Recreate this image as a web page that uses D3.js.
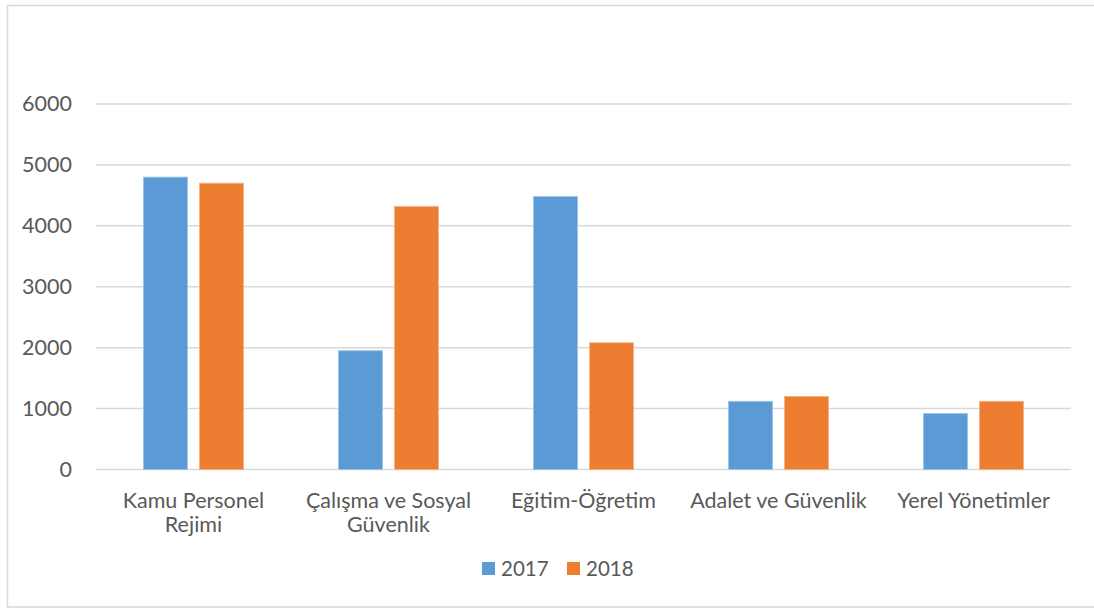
<!DOCTYPE html>
<html>
<head>
<meta charset="utf-8">
<script src="https://cdn.jsdelivr.net/npm/d3@7/dist/d3.min.js"></script>
<style>
  html, body { margin: 0; padding: 0; background: #fff; }
  svg { display: block; }
  text { font-family: "Lato", "Open Sans", sans-serif; fill: #595959; }
</style>
</head>
<body>
<svg id="chart" width="1094" height="608"></svg>
<script>
// Categories (multi-line labels split on "\n")
const categories = [
  "Kamu Personel\nRejimi",
  "Çalışma ve Sosyal\nGüvenlik",
  "Eğitim-Öğretim",
  "Adalet ve Güvenlik",
  "Yerel Yönetimler"
];
const seriesNames = ["2017", "2018"];
const values2017 = [4800, 1950, 4480, 1120, 920];
const values2018 = [4700, 4320, 2080, 1200, 1120];
const yTicks = [0, 1000, 2000, 3000, 4000, 5000, 6000];
const colors = ["#5B9BD5", "#ED7D31"];
const strokes = ["#9DC3E6", "#F4B183"];

const svg = d3.select("#chart");

// Chart-area outline
svg.append("rect")
  .attr("x", 7.5).attr("y", 5.5)
  .attr("width", 1100).attr("height", 601.5)
  .attr("fill", "none").attr("stroke", "#d9d9d9").attr("stroke-width", 1.5);

const plot = { left: 96, right: 1071, top: 104, bottom: 469.5 };

const x = d3.scaleBand()
  .domain(categories)
  .range([plot.left, plot.right])
  .paddingInner(0).paddingOuter(0);

const y = d3.scaleLinear()
  .domain([0, 6000])
  .range([plot.bottom, plot.top]);

// Gridlines
svg.append("g")
  .selectAll("line")
  .data(yTicks)
  .join("line")
  .attr("x1", plot.left).attr("x2", plot.right)
  .attr("y1", d => y(d)).attr("y2", d => y(d))
  .attr("stroke", "#d9d9d9").attr("stroke-width", 1.5);

// Y axis labels
const yAxis = d3.axisLeft(y).tickValues(yTicks).tickSize(0).tickPadding(0).tickFormat(d3.format("d"));
const gy = svg.append("g").attr("transform", `translate(${72},0)`).call(yAxis);
gy.select(".domain").remove();
gy.selectAll("text").attr("font-size", 21.5).attr("font-family", "Lato").attr("fill", "#595959");

// Bars
const barW = 44, gap = 12;
const series = [values2017, values2018];
series.forEach((vals, si) => {
  svg.append("g")
    .selectAll("rect")
    .data(categories.map((c, i) => ({ c, v: vals[i] })))
    .join("rect")
    .attr("x", d => x(d.c) + x.bandwidth() / 2 - gap / 2 - barW + si * (barW + gap))
    .attr("y", d => y(d.v))
    .attr("width", barW)
    .attr("height", d => y(0) - y(d.v))
    .attr("fill", colors[si])
    .attr("stroke", strokes[si]).attr("stroke-width", 0.8);
});

// Category labels
const xl = svg.append("g");
categories.forEach(c => {
  const lines = c.split("\n");
  const t = xl.append("text")
    .attr("x", x(c) + x.bandwidth() / 2)
    .attr("y", 508)
    .attr("text-anchor", "middle")
    .attr("font-size", 21.5);
  lines.forEach((ln, i) => {
    t.append("tspan")
      .attr("x", x(c) + x.bandwidth() / 2)
      .attr("dy", i === 0 ? 0 : 24)
      .text(ln);
  });
});

// Legend
const legend = svg.append("g");
const legendX = [482, 567];
seriesNames.forEach((s, i) => {
  legend.append("rect")
    .attr("x", legendX[i]).attr("y", 562)
    .attr("width", 13).attr("height", 13)
    .attr("fill", colors[i]);
  legend.append("text")
    .attr("x", legendX[i] + 19).attr("y", 576)
    .attr("font-size", 20.5)
    .text(s);
});
</script>
</body>
</html>
